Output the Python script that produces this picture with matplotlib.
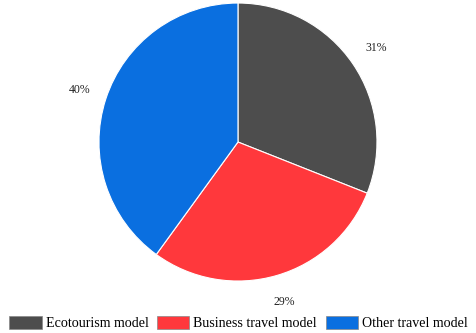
import matplotlib
matplotlib.use("Agg")
import matplotlib.pyplot as plt
import numpy as np

categories = ["Ecotourism model", "Business travel model", "Other travel model"]
values = [31, 29, 40]
colors = ["#4d4d4d", "#ff383c", "#0a6fe0"]

plt.rcParams['font.family'] = ['Liberation Serif', 'DejaVu Serif']

fig = plt.figure(figsize=(4.77, 3.33), dpi=100)
ax = fig.add_axes([0.2075, 0.156, 0.5828, 0.835])
wedges, texts, autotexts = ax.pie(values, colors=colors, startangle=90, counterclock=False,
                                  autopct=lambda p: f"{p:.0f}%", pctdistance=1.2,
                                  wedgeprops=dict(edgecolor="white", linewidth=0.8),
                                  textprops=dict(fontsize=8.5, color="#222222"))
ax.set_xlim(-1, 1)
ax.set_ylim(-1, 1)
ax.set_aspect('equal')

handles = [plt.Rectangle((0, 0), 1, 1, facecolor=c, edgecolor="#888888", linewidth=0.5) for c in colors]
fig.legend(handles, categories, loc="center", bbox_to_anchor=(0.5, 0.03), ncol=3, frameon=False,
           fontsize=10.1, handlelength=2.3, handleheight=1.1, handletextpad=0.3, columnspacing=0.6,
           borderaxespad=0, borderpad=0)
fig.savefig("out.png", dpi=100)
